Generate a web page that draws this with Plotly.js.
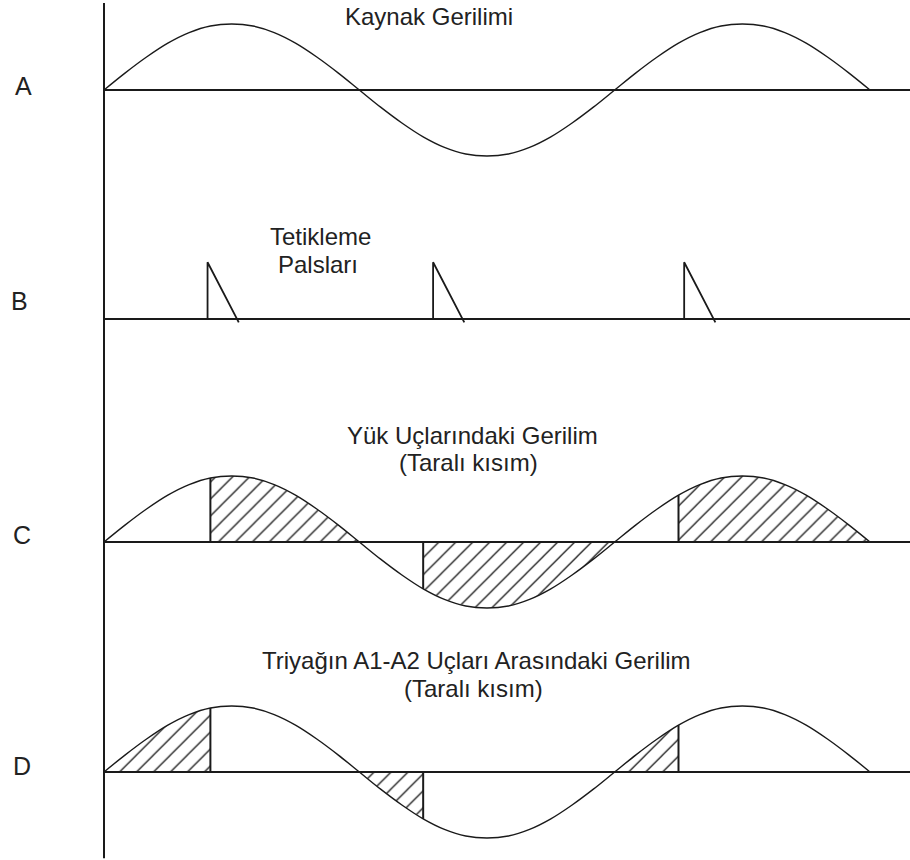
<!DOCTYPE html>
<html><head><meta charset="utf-8">
<script src="https://cdn.plot.ly/plotly-3.0.1.min.js"></script>
<style>html,body{margin:0;padding:0;background:#fff}</style>
</head><body><div id="chart" style="width:910px;height:860px"></div>
<script>
// ---- data (angles in electrical degrees, voltage normalised to peak) ----
const angleDeg = [0,15,30,45,60,75,90,105,120,135,150,165,180,195,210,225,240,255,270,285,300,315,330,345,360,375,390,405,420,435,450,465,480,495,510,525,540];
const sourceVoltage = [0,0.26,0.5,0.71,0.87,0.97,1,0.97,0.87,0.71,0.5,0.26,0,-0.26,-0.5,-0.71,-0.87,-0.97,-1,-0.97,-0.87,-0.71,-0.5,-0.26,0,0.26,0.5,0.71,0.87,0.97,1,0.97,0.87,0.71,0.5,0.26,0];
const pulseAngles = [73, 232, 409];
const pulseHeight = 0.86;
const pulseFall = 22;
const pulseUndershoot = -0.05;
const firingAngles = [75, 225, 405];
const zeroCrossings = [0, 180, 360, 540];
const panelLabels = ['A', 'B', 'C', 'D'];
const titleA = ['Kaynak Gerilimi'];
const titleB = ['Tetikleme', 'Palsları'];
const titleC = ['Yük Uçlarındaki Gerilim', '(Taralı kısım)'];
const titleD = ['Triyağın A1-A2 Uçları Arasındaki Gerilim', '(Taralı kısım)'];

// ---- geometry helpers ----
const W = 910, H = 860;
const x0px = 104, pxPerDeg = (870 - 104) / 540;
const xRange = [-x0px / pxPerDeg, (W - x0px) / pxPerDeg];
const unitPx = 66;
// panel bands (top px, bottom px, baseline px)
const bands = [[0,190,90],[190,370,319],[370,620,542],[620,860,772]];
const yaxes = bands.map(([t,b,base]) => ({
  domain: [1 - b / H, 1 - t / H],
  range: [-(b - base) / unitPx, (base - t) / unitPx],
  visible: false, showgrid: false, zeroline: false, fixedrange: true
}));
const yid = ['y','y2','y3','y4'];

const ink = '#1a1a1a';
const vAt = a => sourceVoltage[angleDeg.indexOf(a)];

const traces = [];
function sineTrace(yref) {
  traces.push({x: angleDeg, y: sourceVoltage, yaxis: yref, mode: 'lines',
    line: {color: ink, width: 1.4, shape: 'spline'}, hoverinfo: 'skip'});
}
function hatch(a, b, yref) {
  const xs = [], ys = [];
  angleDeg.forEach((ang, i) => { if (ang >= a && ang <= b) { xs.push(ang); ys.push(sourceVoltage[i]); } });
  xs.push(b, a); ys.push(0, 0);
  traces.push({x: xs, y: ys, yaxis: yref, mode: 'none', fill: 'toself',
    fillcolor: 'rgba(0,0,0,0)',
    fillpattern: {shape: '/', size: 12, solidity: 0.11, fgcolor: '#1a1a1a', fgopacity: 1,
      bgcolor: 'rgba(0,0,0,0)', fillmode: 'overlay'},
    hoverinfo: 'skip'});
}
function edge(a, yref) {
  traces.push({x: [a, a], y: [0, vAt(a)], yaxis: yref, mode: 'lines',
    line: {color: ink, width: 2}, hoverinfo: 'skip'});
}

// Panel A
sineTrace('y');
// Panel B: trigger pulses
pulseAngles.forEach(p => {
  traces.push({x: [p, p, p + pulseFall], y: [0, pulseHeight, pulseUndershoot], yaxis: 'y2', mode: 'lines',
    line: {color: ink, width: 1.8}, hoverinfo: 'skip'});
});
// Panel C: load voltage (conducting from firing angle to next zero crossing)
firingAngles.forEach((f, i) => { hatch(f, zeroCrossings[i + 1], 'y3'); });
sineTrace('y3');
firingAngles.forEach(f => edge(f, 'y3'));
// Panel D: triac voltage (from zero crossing to firing angle)
firingAngles.forEach((f, i) => { hatch(zeroCrossings[i], f, 'y4'); });
sineTrace('y4');
firingAngles.forEach(f => edge(f, 'y4'));

// baselines and vertical axis
const shapes = yid.map(y => ({type: 'line', xref: 'x', yref: y, x0: 0, x1: xRange[1], y0: 0, y1: 0,
  line: {color: ink, width: 2}}));
shapes.push({type: 'line', xref: 'x', yref: 'paper', x0: 0, x1: 0, y0: 0.002, y1: 1 - 3 / H,
  line: {color: ink, width: 2}});

// annotations
const font = {family: 'Liberation Sans, Arial, sans-serif', size: 24, color: '#222'};
function ann(text, cx, cy, f) {
  return {text: text, xref: 'paper', yref: 'paper', x: cx / W, y: 1 - cy / H,
    xanchor: 'center', yanchor: 'middle', showarrow: false, font: f || font};
}
const labelFont = {family: 'Liberation Sans, Arial, sans-serif', size: 25, color: '#222'};
const labelPos = [[23, 86], [19, 301], [22, 535], [22, 766]];
const annotations = panelLabels.map((l, i) => ann(l, labelPos[i][0], labelPos[i][1], labelFont));
annotations.push(ann(titleA[0], 429, 17));
annotations.push(ann(titleB[0], 320, 237));
annotations.push(ann(titleB[1], 318, 264));
annotations.push(ann(titleC[0], 472, 435));
annotations.push(ann(titleC[1], 469, 462));
annotations.push(ann(titleD[0], 476, 660));
annotations.push(ann(titleD[1], 473, 688));

const layout = {
  width: W, height: H, margin: {l: 0, r: 0, t: 0, b: 0},
  paper_bgcolor: '#fff', plot_bgcolor: '#fff', showlegend: false,
  xaxis: {range: xRange, visible: false, showgrid: false, zeroline: false, fixedrange: true},
  yaxis: yaxes[0],
  yaxis2: Object.assign({anchor: 'x'}, yaxes[1]),
  yaxis3: Object.assign({anchor: 'x'}, yaxes[2]),
  yaxis4: Object.assign({anchor: 'x'}, yaxes[3]),
  shapes: shapes, annotations: annotations
};
Plotly.newPlot('chart', traces, layout, {displayModeBar: false, staticPlot: true});
</script></body></html>
